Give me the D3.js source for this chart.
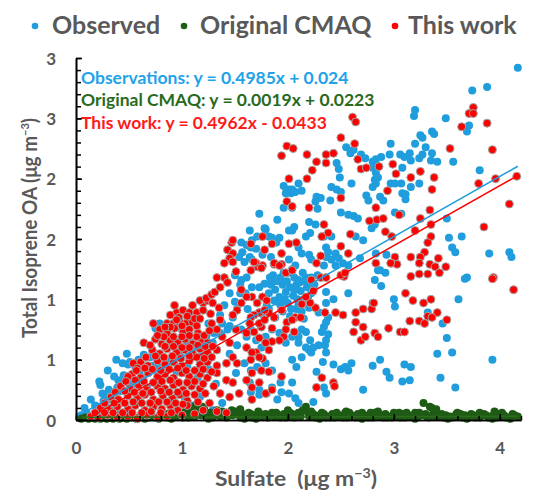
<!DOCTYPE html>
<html><head><meta charset="utf-8">
<script src="https://cdn.jsdelivr.net/npm/d3@7"></script>
<style>body{margin:0;background:#fff} svg{display:block}</style>
</head><body><svg id="c" width="550" height="500"></svg>
<script>
// ---- data ----
const observed = [
[4.17,2.92],[3.88,2.76],[3.74,2.73],[3.19,2.52],[3.20,2.57],[3.49,2.50],[3.71,2.44],[3.69,2.39],[3.25,2.36],[3.27,2.34],[3.36,2.39],[3.38,2.37],[2.97,2.29],[3.20,2.29],[3.30,2.26],[3.36,2.21],[2.55,2.26],[2.59,2.21],[2.62,2.24],[2.69,2.20],[2.73,2.17],[2.80,2.14],[2.83,2.16],[2.88,2.18],[2.96,2.20],[3.06,2.20],[3.10,2.18],[3.15,2.21],[3.16,2.15],[3.24,2.17],[3.27,2.20],[3.35,2.15],[3.41,2.14],[3.56,2.14],[2.46,2.13],[2.48,2.08],[2.80,2.09],[2.83,2.05],[2.82,1.99],[2.85,2.01],[2.80,1.93],[2.83,1.96],[2.97,1.96],[3.01,1.96],[3.07,1.96],[3.16,1.93],[3.08,1.88],[3.11,1.83],[3.11,1.87],[3.24,1.96],[3.08,2.09],[2.49,2.01],[2.60,1.96],[2.41,1.93],[2.46,1.91],[2.50,1.89],[2.10,1.96],[1.96,1.94],[2.01,1.91],[1.98,1.88],[2.04,1.91],[2.13,1.90],[2.27,1.85],[2.31,1.84],[2.26,1.81],[2.40,1.82],[2.74,1.86],[2.76,1.82],[2.87,1.85],[2.90,1.82],[1.96,1.76],[2.04,1.76],[2.28,1.75],[2.50,1.72],[1.73,1.71],[1.90,1.66],[2.20,1.64],[2.26,1.62],[2.57,1.70],[2.62,1.69],[2.66,1.67],[3.01,1.72],[3.07,1.71],[2.06,1.60],[2.04,1.57],[2.79,1.59],[2.82,1.62],[1.64,1.57],[1.78,1.59],[2.21,1.55],[2.17,1.52],[2.34,1.52],[2.41,1.52],[2.64,1.52],[2.71,1.49],[1.66,1.49],[1.82,1.52],[1.89,1.47],[2.10,1.43],[2.13,1.38],[2.20,1.37],[2.36,1.43],[2.38,1.39],[2.45,1.38],[2.22,1.33],[2.36,1.35],[2.41,1.33],[2.48,1.34],[2.52,1.30],[2.45,1.28],[2.34,1.28],[2.57,1.28],[1.76,1.37],[1.84,1.35],[1.66,1.33],[2.01,1.33],[2.07,1.28],[2.68,1.34],[2.83,1.38],[2.93,1.37],[2.85,1.24],[2.92,1.22],[3.52,1.51],[3.55,1.43],[3.58,1.39],[3.64,1.52],[3.50,1.67],[3.81,2.07],[3.90,1.38],[4.09,1.39],[4.11,1.35],[3.69,1.18],
[2.03,1.88],[2.07,1.89],[1.79,1.58],[1.71,1.52],[1.85,1.51],[1.92,1.51],[2.01,1.57],[1.56,1.47],[1.61,1.45],[1.65,1.43],[1.70,1.42],[1.57,1.39],[1.54,1.35],[1.64,1.35],[1.59,1.31],[1.56,1.16],[1.61,1.18],[1.66,1.10],[1.73,1.10],[1.78,1.13],[1.85,1.14],[1.93,1.18],[2.01,1.22],[2.06,1.18],[2.10,1.16],[2.17,1.18],
[1.82,1.05],[1.88,1.08],[1.92,1.02],[1.95,1.12],[1.98,1.06],[2.02,1.10],[2.05,1.03],[2.08,1.12],[2.12,1.07],[2.15,1.00],[2.18,1.10],[2.22,1.05],[1.90,0.98],[2.00,0.97],[2.10,0.96],[1.86,1.20],[1.96,1.22],[2.04,1.25],[2.14,1.22],[2.22,1.18],[1.80,0.95],[2.25,1.12],[2.28,1.20],[1.76,1.02],
[1.84,1.12],[1.90,1.15],[1.99,1.15],[2.06,1.08],[2.11,1.14],[2.19,1.02],[1.93,0.95],[2.03,0.92],[2.13,0.90],[1.87,0.99],[2.20,0.93],[1.97,1.00],[2.09,1.00],[1.83,1.18],[2.16,1.15],
[1.75,0.88],[1.82,0.92],[1.88,0.85],[1.95,0.90],[2.02,0.86],[2.08,0.92],[2.15,0.84],
[3.67,1.17],[2.82,1.16],[2.87,1.24],[2.88,1.11],[2.57,1.05],[2.36,1.06],[2.43,1.00],[2.36,0.97],[3.00,1.00],[3.01,0.94],[3.61,1.00],[2.80,0.97],[2.29,0.89],[2.38,0.85],[2.36,0.81],[2.34,0.77],[3.32,0.89],[3.46,0.80],[3.50,0.68],[2.32,0.73],[2.38,0.71],[2.36,0.66],[2.13,0.75],[2.10,0.69],[2.29,0.62],[2.24,0.60],[2.21,0.66],[2.20,0.58],[2.22,0.56],[2.17,0.60],[2.35,0.62],[2.36,0.56],[2.13,0.52],[2.04,0.50],[2.08,0.44],[2.33,0.48],[2.43,0.46],[2.50,0.42],[2.54,0.44],[2.57,0.41],[2.60,0.47],[2.27,0.40],[2.87,0.50],[2.80,0.45],[2.93,0.40],[2.96,0.35],[3.10,0.46],[3.16,0.44],[3.08,0.32],[3.15,0.33],[3.41,0.55],[3.55,0.56],[3.44,0.35],[3.58,0.27],[3.93,0.50],[2.71,0.25],[2.24,0.15],[2.04,0.31],[1.94,0.23],[2.07,0.18],[1.90,0.17],[1.80,0.22],[1.73,0.21],[2.36,0.22],[2.34,0.27],[1.65,0.23],
[0.14,0.17],[0.23,0.29],[0.25,0.22],[0.28,0.19],[0.31,0.25],[0.36,0.22],[0.39,0.27],[0.33,0.17],[0.21,0.11],[0.30,0.10],[0.37,0.08],[0.44,0.47],[0.49,0.46],[0.51,0.48],[0.59,0.50],[0.56,0.44],[0.64,0.54],[0.70,0.52],[0.36,0.36],[0.40,0.33],[0.45,0.37],[0.49,0.31],[0.53,0.27],[0.63,0.35],[0.68,0.39],[0.75,0.43],[0.81,0.47],[0.67,0.27],[0.79,0.31],[0.89,0.50],[0.95,0.51],[0.87,0.60],[0.91,0.69],[0.75,0.76],[0.79,0.80],[1.00,0.75],[1.05,0.64],[1.09,0.64],[1.14,0.60],[1.19,0.56],[1.23,0.69],[1.29,0.64],[1.33,0.58],[1.36,0.72],[1.38,0.80],[1.43,0.75],[1.36,0.87],[1.56,0.75],[1.61,0.69],[1.65,0.75],[1.70,0.66],[1.75,0.60],[1.79,0.69],[1.85,0.75],[1.92,0.72],[1.98,0.64],[2.04,0.69],[2.10,0.64],[2.17,0.73],[1.59,0.47],[1.65,0.41],[1.71,0.44],[1.79,0.47],[1.85,0.41],[1.51,0.39],[1.64,0.31],[1.73,0.25],[1.85,0.27],[1.93,0.31],[2.01,0.22],[2.10,0.14],[1.38,0.14],[1.29,0.08],[1.03,0.17],[1.09,0.12],[1.17,0.19],
[0.10,0.06],[0.18,0.12],[0.26,0.16],[0.42,0.24],[0.55,0.30],[0.60,0.40],[0.72,0.45],[0.85,0.45],[0.98,0.55],[1.10,0.58],[1.20,0.62],[1.25,0.80],[1.30,0.72],[1.45,0.78],[1.48,0.85],[1.52,0.92],[1.40,0.95],[1.50,0.98],[1.55,1.05],[1.60,1.05],[1.62,0.92],[1.45,1.05],[1.50,1.20],[1.55,1.12],[0.95,0.40],[1.05,0.45],[1.15,0.35],[1.25,0.42],[1.32,0.30],[1.45,0.55],[1.52,0.62],[0.48,0.55],[0.38,0.50],[0.30,0.41],[0.22,0.32],[0.05,0.04],[0.08,0.10]
];

const originalCMAQ = [
[0.05,0.01],[0.08,0.02],[0.12,0.01],[0.14,0.02],[0.18,0.01],[0.20,0.03],[0.23,0.01],[0.27,0.02],[0.29,0.01],[0.33,0.02],[0.35,0.01],[0.39,0.03],[0.41,0.01],[0.44,0.02],[0.48,0.01],[0.50,0.03],[0.53,0.02],[0.57,0.01],[0.59,0.02],[0.63,0.03],[0.65,0.01],[0.69,0.02],[0.71,0.04],[0.74,0.02],[0.78,0.01],[0.80,0.03],[0.84,0.05],[0.86,0.02],[0.89,0.06],[0.93,0.03],[0.95,0.07],[0.99,0.04],[1.01,0.02],[1.04,0.08],[1.08,0.05],[1.10,0.10],[1.12,0.03],[1.16,0.07],[1.18,0.04],[1.21,0.09],[1.25,0.02],[1.27,0.06],[1.31,0.04],[1.33,0.08],[1.36,0.03],[1.40,0.05],[1.42,0.02],[1.46,0.06],[1.48,0.04],[1.51,0.07],[1.55,0.02],[1.57,0.05],[1.61,0.03],[1.63,0.06],[1.66,0.02],[1.70,0.04],[1.72,0.07],[1.75,0.03],[1.79,0.05],[1.81,0.02],[1.85,0.06],[1.87,0.03],[1.91,0.04],[1.93,0.02],[1.96,0.05],[2.00,0.03],[2.02,0.06],[2.06,0.02],[2.08,0.04],[2.12,0.03],[2.14,0.08],[2.17,0.11],[2.20,0.03],[2.24,0.05],[2.26,0.02],[2.30,0.04],[2.32,0.06],[2.36,0.02],[2.38,0.03],[2.42,0.05],[2.44,0.02],[2.48,0.04],[2.50,0.03],[2.54,0.06],[2.56,0.02],[2.60,0.04],[2.62,0.03],[2.66,0.05],[2.68,0.02],[2.72,0.04],[2.74,0.03],[2.78,0.06],[2.80,0.02],[2.84,0.04],[2.86,0.03],[2.90,0.02],[2.92,0.05],[2.96,0.03],[2.98,0.02],[3.02,0.04],[3.04,0.03],[3.08,0.05],[3.10,0.02],[3.14,0.04],[3.16,0.03],[3.20,0.06],[3.22,0.02],[3.26,0.04],[3.28,0.14],[3.31,0.03],[3.34,0.11],[3.37,0.05],[3.40,0.09],[3.43,0.03],[3.47,0.02],[3.49,0.04],[3.53,0.03],[3.55,0.02],[3.59,0.05],[3.61,0.03],[3.65,0.02],[3.67,0.04],[3.71,0.03],[3.73,0.05],[3.77,0.02],[3.79,0.03],[3.83,0.04],[3.85,0.05],[3.89,0.02],[3.91,0.03],[3.95,0.05],[3.97,0.02],[4.01,0.03],[4.04,0.04],[4.08,0.02],[4.12,0.05],[4.17,0.03],
[1.13,0.12],[1.19,0.11],[1.55,0.09],[2.00,0.08],[2.55,0.07],[2.85,0.07],[3.05,0.06],[3.20,0.01],[3.60,0.06],[3.95,0.07],[4.10,0.01],[1.70,0.01],[2.30,0.01],[2.70,0.01],[1.25,0.01],[0.90,0.01],[2.16,0.09],[3.36,0.10],
[0.95,0.03],[1.02,0.06],[1.06,0.02],[1.14,0.05],[1.22,0.06],[1.29,0.02],[1.38,0.07],[1.44,0.04],[1.53,0.05],[1.59,0.01],[1.65,0.05],[1.74,0.05],[1.83,0.04],[1.89,0.06],[1.98,0.02],[2.04,0.05],[2.10,0.06],[2.19,0.06],[2.28,0.03],[2.34,0.05],[2.40,0.02],[2.46,0.06],[2.52,0.02],[2.58,0.06],[2.64,0.02],[2.70,0.06],[2.76,0.02],[2.82,0.06],[2.88,0.04],[2.94,0.02],[3.00,0.06],[3.06,0.02],[3.12,0.06],[3.18,0.03],[3.24,0.06],[3.30,0.05],[3.39,0.03],[3.45,0.05],[3.51,0.01],[3.57,0.03],[3.63,0.05],[3.69,0.01],[3.75,0.04],[3.81,0.02],[3.87,0.04],[3.93,0.01],[3.99,0.05],[4.06,0.02],[4.14,0.04],[4.02,0.06],[3.81,0.06],[3.33,0.02],[2.22,0.07],[1.47,0.08],[1.05,0.04],[0.98,0.06]
];

const thisWork = [
[3.75,2.59],[3.71,2.54],[3.75,2.54],[3.64,2.43],[3.88,2.46],[2.61,2.51],[2.64,2.47],[2.50,2.34],[2.63,2.29],[1.99,2.27],[2.05,2.25],[1.94,2.19],[2.18,2.20],[2.36,2.20],[2.43,2.21],[2.27,2.14],[2.36,2.13],[2.23,2.07],[2.66,2.16],[2.69,2.08],[2.74,2.09],[2.99,2.12],[2.86,2.10],[3.02,2.04],[3.16,2.01],[3.25,2.06],[3.38,2.01],[3.36,1.91],[3.53,2.25],[3.93,2.24],[3.80,1.96],[3.96,2.00],[4.16,2.02],[4.09,1.79],[3.85,1.60],[2.01,2.00],[2.18,2.00],[1.99,1.81],[2.04,1.77],[2.20,1.76],[2.50,1.84],[2.94,1.90],[2.83,1.76],[3.05,1.70],[3.25,1.67],[3.34,1.74],[2.84,1.66],[2.90,1.67],[2.77,1.65],[2.34,1.62],[2.38,1.55],[2.32,1.52],[2.59,1.54],[2.92,1.56],[2.98,1.52],[3.20,1.57],[3.35,1.62],[3.35,1.52],[3.32,1.47],[3.29,1.39],[3.25,1.35],[3.01,1.35],[2.98,1.30],[3.03,1.29],[3.16,1.35],[3.24,1.30],[3.34,1.29],[3.42,1.34],[3.39,1.27],[3.49,1.27],[3.16,1.19],[3.24,1.21],[3.32,1.21],[3.43,1.22],[3.94,1.18],[1.76,1.52],[1.65,1.46],[1.85,1.46],[2.01,1.46],[2.08,1.47],[1.78,1.41],[1.94,1.38],[2.31,1.36],[1.87,1.29],[1.94,1.29],[1.71,1.27],[2.27,1.30],[2.50,1.44],[2.57,1.38],[2.53,1.19],[2.83,1.30],
[3.93,1.17],[4.13,1.08],[2.97,1.30],[3.11,1.05],[3.18,0.99],[3.28,0.97],[3.35,1.00],[3.41,0.89],[3.32,0.86],[3.36,0.85],[3.50,0.83],[3.24,0.82],[3.29,0.80],[3.15,0.82],[3.06,0.73],[3.10,0.73],[2.95,0.76],[2.82,0.72],[2.85,0.69],[2.69,0.66],[2.73,0.69],[2.62,0.73],[2.71,0.77],[2.64,0.81],[2.52,0.87],[2.64,0.89],[2.71,0.92],[2.79,0.92],[2.81,0.97],[2.45,0.89],[2.35,0.89],[2.26,0.93],[2.21,0.97],[2.17,1.02],[2.13,0.96],[2.07,0.85],[1.99,0.81],[2.12,0.85],[2.04,0.83],[1.94,0.91],[1.87,0.85],[1.82,0.89],[2.22,1.16],[2.31,1.18],[2.36,1.18],[2.50,1.20],[2.54,1.22],[2.24,1.07],[1.76,1.02],[1.80,0.99],[1.71,0.97],[1.66,1.02],[1.73,0.89],[1.78,0.91],[1.68,0.87],[1.75,0.77],[1.85,0.76],[1.68,0.73],[1.96,0.69],[1.92,0.66],[2.06,0.73],[1.98,0.75],[1.85,0.65],[1.82,0.58],[1.70,0.56],[1.76,0.51],[1.65,0.50],[1.75,0.41],[1.66,0.39],[1.82,0.40],[1.94,0.36],[2.32,0.35],[2.43,0.31],[2.44,0.28],[2.27,0.27],[1.79,0.22],[1.66,0.27],[1.70,1.30],[1.76,1.28],[1.87,1.30],[1.92,1.28],[1.98,1.22],[2.04,1.24],
[1.47,1.47],[1.48,1.49],[1.43,1.41],[1.48,1.38],[1.45,1.34],[1.40,1.30],[1.48,1.31],[1.51,1.23],[1.65,1.24],[1.68,1.31],[1.75,1.26],[1.20,0.97],[1.24,0.99],[1.29,0.97],[0.93,0.95],[0.95,0.89],[0.89,0.87],[1.01,0.91],[1.07,0.89],[1.14,0.89],[1.20,0.91],[0.86,0.80],[0.92,0.80],[0.98,0.81],[1.05,0.81],[1.10,0.81],
[0.79,0.75],[0.86,0.72],[0.93,0.76],[1.01,0.73],[1.07,0.75],[1.15,0.72],
[0.75,0.67],[0.81,0.63],[0.89,0.66],[0.96,0.64],[1.03,0.67],[1.10,0.63],[1.19,0.66],[1.24,0.64],
[0.72,0.58],[0.79,0.55],[0.86,0.59],[0.95,0.56],[1.03,0.58],[1.10,0.55],[1.17,0.59],[1.24,0.56],[1.33,0.58],
[0.61,0.48],[0.68,0.45],[0.77,0.49],[0.84,0.46],[0.92,0.48],[1.00,0.45],[1.07,0.49],[1.17,0.46],[1.24,0.48],[1.33,0.45],
[0.53,0.38],[0.61,0.35],[0.68,0.39],[0.77,0.36],[0.84,0.38],[0.92,0.35],[1.00,0.39],[1.07,0.36],[1.17,0.38],[1.24,0.35],
[0.42,0.28],[0.51,0.26],[0.59,0.29],[0.67,0.25],[0.77,0.28],[0.84,0.26],[0.92,0.29],[1.01,0.25],[1.09,0.28],[1.17,0.26],
[0.33,0.19],[0.40,0.17],[0.49,0.20],[0.58,0.18],[0.65,0.21],[0.73,0.17],[0.82,0.20],[0.91,0.18],[0.98,0.21],
[0.23,0.10],[0.31,0.08],[0.39,0.11],[0.49,0.09],[0.56,0.12],[0.65,0.08],[0.73,0.11],[0.81,0.09],[0.89,0.12],[0.96,0.08],
[0.14,0.03],[0.21,0.02],[0.30,0.04],[0.39,0.02],[0.49,0.03],[0.58,0.01],[0.67,0.04],[0.77,0.02],[0.86,0.03],
[0.46,0.14],[0.62,0.14],[0.78,0.15],[0.94,0.14],[1.05,0.16],[0.55,0.23],[0.71,0.23],[0.88,0.23],[1.04,0.22],[0.64,0.32],[0.81,0.32],[0.97,0.31],[1.12,0.32],[0.72,0.42],[0.88,0.42],[1.04,0.41],[1.20,0.42],[0.83,0.52],[0.99,0.51],[1.14,0.52],[1.28,0.52],[0.92,0.61],[1.07,0.60],[1.22,0.61],[0.83,0.69],[1.00,0.69],[1.14,0.69],[0.97,0.85],[1.12,0.84],[0.89,0.77],
[0.73,0.80],[0.64,0.64],[0.54,0.47],[0.58,0.43],[0.49,0.36],[1.17,0.99],[1.23,1.01],[1.28,1.04],[1.31,1.06],[1.36,1.10],[1.40,1.18],[1.43,1.14],[1.33,1.18],[1.56,1.08],[1.61,1.02],[1.56,0.97],[1.52,0.91],[1.48,0.87],[1.65,0.85],[1.64,0.80],[1.73,0.80],[1.78,0.83],[1.51,0.75],[1.61,0.72],[1.38,0.69],[1.45,0.64],[1.33,0.75],[1.28,0.80],[1.36,0.83],[1.73,0.68],[1.79,0.64],[1.61,0.60],[1.66,0.56],[1.73,0.52],[1.48,0.52],[1.52,0.47],[1.42,0.47],[1.33,0.39],[1.42,0.33],[1.48,0.31],[1.61,0.33],[1.73,0.31],[1.36,0.22],[1.45,0.19],[1.54,0.22],[1.66,0.17],[1.26,0.14],[1.33,0.07],[1.42,0.06],[1.85,0.25],
[1.05,0.12],[1.15,0.15],[1.22,0.22],[1.30,0.28],[1.12,0.05],[1.20,0.08],[1.00,0.04],
[0.18,0.06],[0.27,0.06],[0.35,0.06],[0.44,0.06],[0.53,0.06],[0.62,0.06],[0.71,0.07],[0.80,0.06],[0.90,0.06],[0.27,0.14],[0.36,0.14],[0.54,0.15],[0.70,0.14],[0.86,0.15],[1.01,0.13],[0.37,0.23],[0.46,0.24],[0.63,0.22],[0.80,0.24],[0.96,0.23],[1.12,0.21],[0.47,0.32],[0.56,0.33],[0.73,0.31],[0.89,0.33],[1.05,0.31],[1.20,0.30],[0.57,0.41],[0.65,0.43],[0.80,0.41],[0.96,0.43],[1.12,0.41],[1.28,0.40],[0.66,0.52],[0.75,0.53],[0.91,0.53],[1.07,0.53],[1.21,0.51],[0.70,0.62],[0.84,0.61],[1.00,0.60],[1.15,0.62],[1.29,0.61],[0.77,0.70],[0.92,0.69],[1.07,0.70],[1.21,0.70],[0.84,0.77],[1.00,0.78],[1.14,0.78],[1.26,0.74],[0.95,0.83],[1.05,0.86],[1.17,0.84],[1.27,0.88],[1.35,0.93],[1.10,0.95]
];

const seriesNames = ["Observed", "Original CMAQ", "This work"];
const trendLabels = ["Observations: y = 0.4985x + 0.024", "Original CMAQ: y = 0.0019x + 0.0223", "This work: y = 0.4962x - 0.0433"];
const trendSlopes = [0.4985, 0.0019, 0.4962];
const trendIntercepts = [0.024, 0.0223, -0.0433];
const xTickValues = [0, 1, 2, 3, 4];
const yTickValues = [0, 0.5, 1, 1.5, 2, 2.5, 3];
const yTickLabels = ["0", "1", "1", "2", "2", "3", "3"];

// ---- style ----
const dotColors = ["#1f9ddc", "#1e5b15", "#ff0000"];
const lineColors = ["#1f9ddc", "#2d6b1e", "#ff0000"];
const eqColors = ["#1ea2e8", "#2a6a1c", "#ff1a1a"];
const textGray = "#595959";
const FONT = "Lato, 'Open Sans', sans-serif";

const svg = d3.select("#c");
const x = d3.scaleLinear().domain([0, 4.2]).range([76, 521]);
const y = d3.scaleLinear().domain([0, 3]).range([420, 58]);

// ---- points ----
const series = [observed, originalCMAQ, thisWork];
series.forEach((data, i) => {
  svg.append("g").selectAll("circle").data(data).join("circle")
    .attr("cx", d => x(d[0])).attr("cy", d => y(d[1])).attr("r", 4)
    .attr("fill", dotColors[i])
    .attr("stroke", i === 2 ? "#a5a5a5" : "none")
    .attr("stroke-width", i === 2 ? 1 : 0);
});

// ---- trend lines ----
series.forEach((data, i) => {
  const ext = d3.extent(data, d => d[0]);
  const pts = ext.map(v => [v, trendSlopes[i] * v + trendIntercepts[i]]);
  svg.append("path")
    .attr("d", d3.line().x(d => x(d[0])).y(d => y(d[1]))(pts))
    .attr("stroke", lineColors[i])
    .attr("stroke-width", 1.5).attr("fill", "none");
});

// ---- axes ----
function styleAxis(g, fs) {
  g.select(".domain").attr("stroke", "#000").attr("stroke-width", 1.6);
  g.selectAll(".tick line").attr("stroke", "#000").attr("stroke-width", 1.5);
  g.selectAll("text").attr("fill", textGray).attr("font-family", FONT)
    .attr("font-weight", "bold").attr("font-size", fs);
}
const yMinor = svg.append("g").attr("transform", "translate(76,0)")
  .call(d3.axisLeft(y).tickValues(d3.range(0, 3.001, 0.1)).tickSize(-5).tickSizeOuter(0).tickFormat(""));
styleAxis(yMinor, 16);
const yAxis = svg.append("g").attr("transform", "translate(76,0)")
  .call(d3.axisLeft(y).tickValues(yTickValues).tickSize(-6).tickSizeOuter(0).tickPadding(20)
    .tickFormat((d, i) => yTickLabels[i]));
styleAxis(yAxis, 17);
yAxis.selectAll("text").attr("dy", "0.36em");

const xMinor = svg.append("g").attr("transform", "translate(0,420)")
  .call(d3.axisBottom(x).tickValues(d3.range(0, 4.201, 0.2)).tickSize(-4).tickSizeOuter(0).tickFormat(""));
styleAxis(xMinor, 16);
const xAxis = svg.append("g").attr("transform", "translate(0,420)")
  .call(d3.axisBottom(x).tickValues(xTickValues).tickSize(-6).tickSizeOuter(0).tickPadding(22)
    .tickFormat(d3.format("d")));
styleAxis(xAxis, 17);

// ---- axis titles ----
const xt = svg.append("text").attr("x", 215).attr("y", 486)
  .attr("font-family", FONT).attr("font-weight", "bold").attr("font-size", 21).attr("fill", textGray)
  .attr("textLength", 162).attr("lengthAdjust", "spacingAndGlyphs");
xt.append("tspan").text("Sulfate\u00a0\u00a0(μg m");
xt.append("tspan").attr("font-size", 13).attr("dy", -8).text("−3");
xt.append("tspan").attr("dy", 8).text(")");

const yt = svg.append("text").attr("transform", "translate(37,338) rotate(-90)")
  .attr("x", 0).attr("y", 0)
  .attr("font-family", FONT).attr("font-weight", "bold").attr("font-size", 20.5).attr("fill", textGray)
  .attr("textLength", 220).attr("lengthAdjust", "spacingAndGlyphs");
yt.append("tspan").text("Total Isoprene OA (μg m");
yt.append("tspan").attr("font-size", 12).attr("dy", -8).text("−3");
yt.append("tspan").attr("dy", 8).text(")");

// ---- trend equations ----
const eqBase = [84, 106, 129];
trendLabels.forEach((t, i) => {
  svg.append("text").attr("x", 81).attr("y", eqBase[i])
    .attr("font-family", FONT).attr("font-weight", "bold").attr("font-size", 17.5)
    .attr("fill", eqColors[i]).text(t);
});

// ---- legend ----
const legMarkX = [35, 184, 395];
const legTextX = [52, 200, 408];
seriesNames.forEach((n, i) => {
  svg.append("circle").attr("cx", legMarkX[i]).attr("cy", 26).attr("r", 3.3).attr("fill", dotColors[i]);
  svg.append("text").attr("x", legTextX[i]).attr("y", 34)
    .attr("font-family", FONT).attr("font-weight", "bold").attr("font-size", 25)
    .attr("fill", textGray).text(n);
});
</script>
</body></html>
